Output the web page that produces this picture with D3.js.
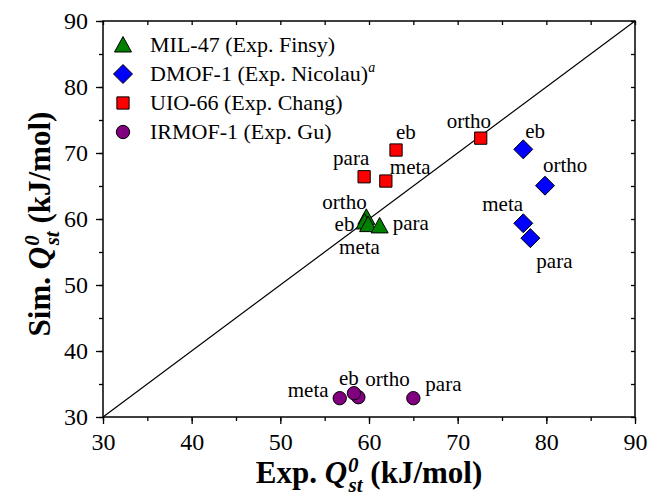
<!DOCTYPE html>
<html><head><meta charset="utf-8">
<script src="https://cdn.jsdelivr.net/npm/d3@7/dist/d3.min.js"></script>
<style>body{margin:0;background:#fff}svg{display:block}text{font-family:"Liberation Serif","Times New Roman",Times,"DejaVu Serif",serif}</style>
</head><body><svg id="c" width="649" height="500"></svg>
<script>
// ---- data ----
const seriesNames = ["MIL-47 (Exp. Finsy)", "DMOF-1 (Exp. Nicolau)", "UIO-66 (Exp. Chang)", "IRMOF-1 (Exp. Gu)"];
const isomers = ["ortho", "eb", "meta", "para"];
const milExp   = [59.7, 59.5, 59.9, 61.2];
const milSim   = [60.1, 59.4, 59.0, 58.8];
const dmofExp  = [79.85, 77.4, 77.4, 78.2];
const dmofSim  = [65.05, 70.55, 59.35, 57.1];
const uioExp   = [72.6, 63.05, 61.9, 59.45];
const uioSim   = [72.25, 70.45, 65.75, 66.4];
const irmofExp = [58.8, 58.3, 56.7, 65.0];
const irmofSim = [33.0, 33.6, 32.85, 32.85];
const xTicks = [30, 40, 50, 60, 70, 80, 90];
const yTicks = [30, 40, 50, 60, 70, 80, 90];
// label offsets (px) per series, order as isomers
const milLab   = [[-44,-9],[-30,8],[-29,28],[13,3]];
const dmofLab  = [[-2,-14],[2,-11],[-41,-12],[6,30]];
const uioLab   = [[-34,-10],[0,-11],[4,-7],[-31,-12]];
const irmofLab = [[7,-11],[-15,-8],[-52,-1],[12,-7]];

const FONT = '"Liberation Serif","Times New Roman",Times,"DejaVu Serif",serif';
const series = [
  {name: seriesNames[0], exp: milExp, sim: milSim, lab: milLab, shape: "tri", color: "#008000"},
  {name: seriesNames[1], exp: dmofExp, sim: dmofSim, lab: dmofLab, shape: "dia", color: "#0000ff", sup: "a"},
  {name: seriesNames[2], exp: uioExp, sim: uioSim, lab: uioLab, shape: "sq", color: "#ff0000"},
  {name: seriesNames[3], exp: irmofExp, sim: irmofSim, lab: irmofLab, shape: "cir", color: "#800080"}
];

const L = 103, R = 635, T = 21, B = 417;
const svg = d3.select("#c").attr("font-family", FONT);
const x = d3.scaleLinear().domain([30, 90]).range([L, R]);
const y = d3.scaleLinear().domain([30, 90]).range([B, T]);
const minor = d3.range(30, 91, 5);

// axes
const fmt = d3.format("d");
const gx = svg.append("g").attr("transform", `translate(0,${B})`)
  .call(d3.axisBottom(x).tickValues(minor).tickSize(4).tickFormat(""));
const gx2 = svg.append("g").attr("transform", `translate(0,${B})`)
  .call(d3.axisBottom(x).tickValues(xTicks).tickSize(7).tickPadding(9).tickFormat(fmt));
const gy = svg.append("g").attr("transform", `translate(${L},0)`)
  .call(d3.axisLeft(y).tickValues(minor).tickSize(4).tickFormat(""));
const gy2 = svg.append("g").attr("transform", `translate(${L},0)`)
  .call(d3.axisLeft(y).tickValues(yTicks).tickSize(7).tickPadding(8).tickFormat(fmt));
const gt = svg.append("g").attr("transform", `translate(0,${T})`)
  .call(d3.axisBottom(x).tickValues(minor).tickSize(4).tickFormat(""));
const gr = svg.append("g").attr("transform", `translate(${R},0)`)
  .call(d3.axisLeft(y).tickValues(minor).tickSize(4).tickFormat(""));
[gx, gx2, gy, gy2, gt, gr].forEach(g => {
  g.attr("font-family", FONT);
  g.select(".domain").remove();
  g.selectAll("line").attr("stroke", "#000").attr("stroke-width", 1.3);
  g.selectAll("text").attr("font-size", 24).attr("fill", "#000").attr("font-family", FONT);
});
svg.append("rect").attr("x", L).attr("y", T).attr("width", R - L).attr("height", B - T)
  .attr("fill", "none").attr("stroke", "#000").attr("stroke-width", 1.5);

// diagonal
svg.append("line").attr("x1", x(30)).attr("y1", y(30)).attr("x2", x(90)).attr("y2", y(90))
  .attr("stroke", "#000").attr("stroke-width", 1.2);

const sym = {
  sq: d3.symbol().type(d3.symbolSquare).size(150),
  cir: d3.symbol().type(d3.symbolCircle).size(140)
};
function shapePath(shape) {
  if (shape === "dia") return "M0,-9.5L9.5,0L0,9.5L-9.5,0Z";
  if (shape === "tri") return "M0,-9.5L8.5,6L-8.5,6Z";
  return sym[shape]();
}

// points + labels
series.forEach(s => {
  const g = svg.append("g");
  s.exp.forEach((v, i) => {
    g.append("path").attr("d", shapePath(s.shape))
      .attr("transform", `translate(${x(v)},${y(s.sim[i])})`)
      .attr("fill", s.color).attr("stroke", "#000").attr("stroke-width", 1);
  });
  s.exp.forEach((v, i) => {
    g.append("text").attr("x", x(v) + s.lab[i][0]).attr("y", y(s.sim[i]) + s.lab[i][1])
      .attr("font-size", 21).attr("fill", "#000").attr("font-family", FONT).text(isomers[i]);
  });
});

// legend
series.forEach((s, i) => {
  const cy = 45 + i * 29;
  svg.append("path").attr("d", shapePath(s.shape))
    .attr("transform", `translate(123,${cy + (s.shape === "tri" ? 1 : 0)})`)
    .attr("fill", s.color).attr("stroke", "#000").attr("stroke-width", 1);
  const t = svg.append("text").attr("x", 150).attr("y", cy + 7).attr("font-size", 22)
    .attr("fill", "#000").attr("font-family", FONT);
  t.append("tspan").text(s.name);
  if (s.sup) t.append("tspan").attr("dy", -9).attr("font-size", 14).attr("font-style", "italic").text(s.sup);
});

// axis titles
function qTitle(t, pre) {
  t.append("tspan").text(pre);
  t.append("tspan").attr("font-style", "italic").text("Q");
  t.append("tspan").attr("font-style", "italic").attr("font-size", 21).attr("dy", -11).attr("dx", 1).text("0");
  t.append("tspan").attr("font-style", "italic").attr("font-size", 21).attr("dy", 20).attr("dx", -10).text("st");
  t.append("tspan").attr("dy", -9).text(" (kJ/mol)");
}
const xt = svg.append("text").attr("x", 369).attr("y", 483).attr("text-anchor", "middle")
  .attr("font-size", 31).attr("font-weight", "bold").attr("fill", "#000").attr("font-family", FONT);
qTitle(xt, "Exp. ");
const yt = svg.append("text").attr("transform", "translate(50,224) rotate(-90)").attr("text-anchor", "middle")
  .attr("font-size", 31).attr("font-weight", "bold").attr("fill", "#000").attr("font-family", FONT);
qTitle(yt, "Sim. ");
</script></body></html>
